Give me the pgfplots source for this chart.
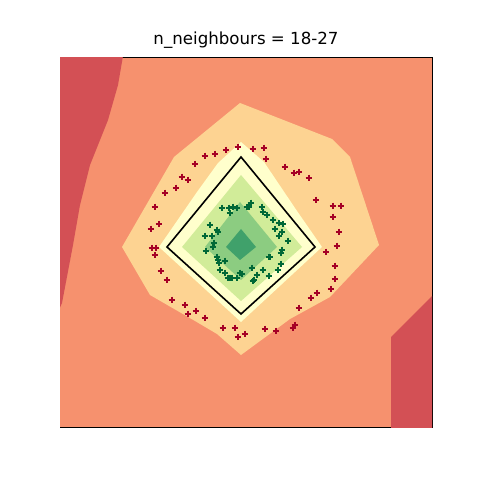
\documentclass[border=0pt]{standalone}
\usepackage{pgfplots}
\pgfplotsset{compat=1.18}
\usepackage{fontspec}
\setmainfont{DejaVu Sans}
\definecolor{cdred}{RGB}{211,80,85}
\definecolor{csal}{RGB}{246,145,110}
\definecolor{corg}{RGB}{253,211,146}
\definecolor{cyel}{RGB}{255,255,204}
\definecolor{clgr}{RGB}{209,236,153}
\definecolor{cmgr}{RGB}{140,204,129}
\definecolor{cdgr}{RGB}{64,161,107}
\definecolor{mred}{RGB}{165,0,38}
\definecolor{mgrn}{RGB}{0,104,55}
\begin{document}
\begin{tikzpicture}[x=1bp,y=1bp]
\useasboundingbox (0,0) rectangle (480,480);
\begin{axis}[
  at={(60bp,53bp)}, anchor=south west,
  scale only axis, width=372bp, height=369bp,
  xmin=60, xmax=432, ymin=58, ymax=427, y dir=reverse,
  xtick=\empty, ytick=\empty,
  axis line style={line width=1bp},
  title={\fontsize{16.7}{20}\selectfont n\_neighbours = 18-27},
  title style={at={(0.5,1)}, anchor=base, yshift=8bp, inner sep=0pt},
  clip=true,
]
% background
\addplot[fill=csal, draw=none] coordinates {(60,58) (432,58) (432,427) (60,427)} -- cycle;
% dark red left
\addplot[fill=cdred, draw=none] coordinates {(58,56) (123,56) (118,85) (108,120) (90,165) (80,205) (73,245) (62,303) (58,312)} -- cycle;
% dark red bottom right
\addplot[fill=cdred, draw=none] coordinates {(391,429) (391,337) (434,294) (434,429)} -- cycle;
% light orange
\addplot[fill=corg, draw=none] coordinates {(240,103) (332,139) (350,157) (379,245) (330,297) (290,319) (241,355) (217,334) (195,321) (150,295) (122,247) (174,157)} -- cycle;
% yellow
\addplot[fill=cyel, draw=none] coordinates {(241,142) (264,162) (297,211) (322,247) (241,322) (159,247) (197,192) (218,163)} -- cycle;
% light green
\addplot[fill=clgr, draw=none] coordinates {(241,175) (302,247) (241,301) (182,247)} -- cycle;
% medium green
\addplot[fill=cmgr, draw=none] coordinates {(240,202) (277,247) (241,280) (205,247)} -- cycle;
% dark green
\addplot[fill=cdgr, draw=none] coordinates {(241,229) (256,247) (240,260) (226,247)} -- cycle;
% black diamond
\addplot[black, line width=1.6bp] coordinates {(241,157) (315,247) (241,314) (167,247)} -- cycle;
% red points
\addplot[only marks, mark=+, mark size=3.4bp, mark options={line width=2bp}, color=mred] coordinates {
(238,147) (253,149) (264,148) (266,159) (285,167) (294,173) (299,172) (309,178)
(316,200) (333,206) (341,206) (333,217) (339,232) (337,246)
(226,150) (215,154) (205,156) (195,164) (182,177) (188,180) (176,188) (165,193)
(155,207) (159,224) (151,229) (152,248) (156,248) (155,255) (161,271) (167,280)
(172,300) (185,305) (188,314) (196,311) (205,318) (223,328) (235,328) (238,337)
(245,334) (265,329) (276,331) (293,328) (295,325) (299,308) (311,298) (317,293)
(331,289) (335,279) (335,266) (326,252)
};
% green points
\addplot[only marks, mark=+, mark size=3.4bp, mark options={line width=2bp}, color=mgrn] coordinates {
(222,208) (229,208) (233,207) (230,213) (237,208) (247,207) (251,203) (249,207)
(262,207) (263,212) (267,215) (273,220) (279,223) (283,224) (275,229) (282,232)
(279,236) (288,241) (282,250) (281,253) (270,257) (281,264) (278,270) (269,276)
(263,270) (257,275) (252,268) (242,274) (237,278) (230,278) (225,273) (225,261)
(220,270) (218,260) (217,257) (210,225) (217,230) (218,232) (205,236) (212,236)
(214,243) (213,247) (206,251) (219,263) (228,278) (232,278) (253,281) (254,280)
(269,257) (240,273)
};
\end{axis}
\end{tikzpicture}
\end{document}
